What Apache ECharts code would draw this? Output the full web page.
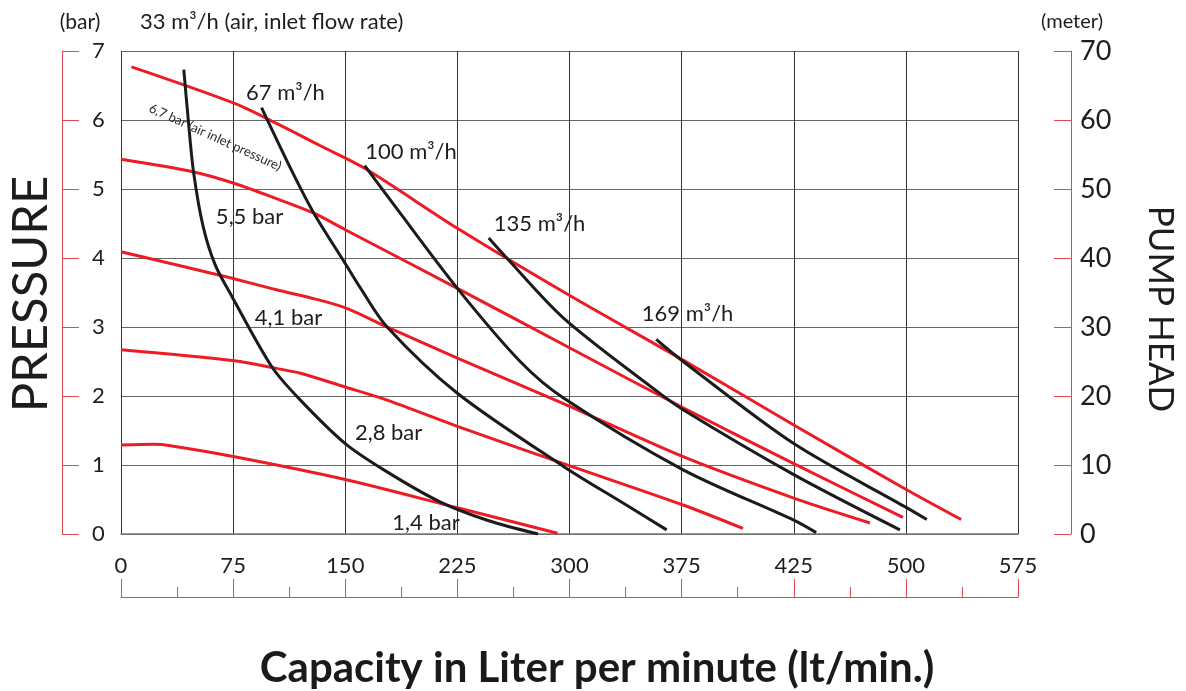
<!DOCTYPE html>
<html>
<head>
<meta charset="utf-8">
<script src="https://cdn.jsdelivr.net/npm/echarts@6/dist/echarts.min.js"></script>
<style>
html,body{margin:0;padding:0;background:#fff;}
#chart{width:1186px;height:691px;}
</style>
</head>
<body>
<div id="chart"></div>
<script>
// ---- data ----
var xTickLabels = ['0','75','150','225','300','375','425','500','575'];
// pump head curves at given air inlet pressure (bar)
var bar67 = [[7,6.77],[76,6.24],[104,5.95],[133,5.63],[163,5.30],[225,4.43],[299,3.47],[376,2.52],[450,1.58],[524,0.66],[562,0.21]];
var bar55 = [[0,5.43],[48,5.25],[76,5.08],[104,4.86],[129,4.65],[150,4.41],[225,3.56],[299,2.71],[376,1.83],[450,1.02],[523,0.24]];
var bar41 = [[0,4.09],[66,3.75],[104,3.54],[131,3.40],[151,3.27],[176,3.02],[225,2.55],[296,1.89],[376,1.12],[450,0.52],[501,0.16]];
var bar28 = [[0,2.67],[76,2.51],[104,2.40],[120,2.33],[150,2.13],[178,1.94],[225,1.56],[296,1.02],[376,0.42],[416,0.08]];
var bar14 = [[0,1.29],[22,1.30],[33,1.28],[76,1.12],[150,0.79],[225,0.38],[292,0.01]];
// air consumption curves (m3/h)
var air33  = [[42,6.73],[45,6.0],[48.5,5.25],[55,4.45],[63,3.90],[74,3.45],[101,2.42],[120,1.94],[150,1.31],[178,0.90],[213,0.47],[245,0.20],[279,0.0]];
var air67  = [[94,6.18],[115,5.23],[129,4.65],[150,3.92],[160,3.57],[178,3.0],[225,2.04],[296,0.98],[338,0.42],[365,0.06]];
var air100 = [[163,5.34],[185,4.70],[225,3.56],[267,2.50],[296,1.97],[376,0.93],[450,0.20],[465,0.02]];
var air135 = [[246,4.29],[258,4.0],[296,3.13],[356,2.11],[376,1.80],[450,0.86],[521,0.06]];
var air169 = [[358,2.82],[376,2.50],[450,1.31],[524,0.40],[539,0.21]];
// curve annotations (text, anchor in data units)
var curveLabels = [
  ['67 m³/h',[110,6.39]],
  ['100 m³/h',[194,5.54]],
  ['135 m³/h',[280,4.50]],
  ['169 m³/h',[379,3.19]],
  ['5,5 bar',[86,4.59]],
  ['4,1 bar',[112,3.13]],
  ['2,8 bar',[179,1.46]],
  ['1,4 bar',[204,0.16]]
];
var rotatedLabel = ['6,7 bar (air inlet pressure)',[63,5.75]];

// ---- styles ----
var FONT = 'Lato, "Open Sans", sans-serif';
var RED = '#ed1c24';
var AXRED = '#e0474f';
var BLACK = '#1b1b1b';
var TXT = '#1f1c1d';

function redLine(d){return {type:'line',data:d,showSymbol:false,smooth:0.3,lineStyle:{color:RED,width:3},z:3};}
function blackLine(d){return {type:'line',data:d,showSymbol:false,smooth:0.3,lineStyle:{color:BLACK,width:3},z:4};}

var labelData = curveLabels.map(function(l){
  return {value:l[1], label:{show:true, formatter:l[0], position:'inside', fontSize:22, color:TXT, opacity:1, fontFamily:FONT}};
});
labelData.push({value:rotatedLabel[1], label:{show:true, formatter:rotatedLabel[0], position:'inside', rotate:-24.5, fontSize:13, color:'#2a2a2a', opacity:1, fontFamily:FONT}});

var chart = echarts.init(document.getElementById('chart'), null, {renderer:'canvas'});
chart.setOption({
  animation:false,
  backgroundColor:'#fff',
  grid:{left:121, right:168, top:51, bottom:157},
  xAxis:[
    {type:'value', min:0, max:600, interval:75, position:'bottom',
     axisLine:{show:true, onZero:false, lineStyle:{color:'#777', width:1.5}},
     axisTick:{show:false},
     axisLabel:{margin:21, fontSize:22, color:TXT, fontFamily:FONT,
       formatter:function(v){return xTickLabels[Math.round(v/75)];}},
     splitLine:{show:true, lineStyle:{color:'#333', width:1}}},
    {type:'value', min:0, max:600, interval:75, position:'bottom', offset:63,
     axisLine:{show:true, onZero:false, lineStyle:{color:AXRED, width:1}},
     axisTick:{show:true, inside:true, length:18, lineStyle:{color:AXRED}},
     minorTick:{show:true, splitNumber:2, length:10, lineStyle:{color:AXRED}},
     axisLabel:{show:false}, splitLine:{show:false}}
  ],
  yAxis:[
    {type:'value', min:0, max:7, interval:1, position:'left', offset:59,
     axisLine:{show:true, onZero:false, lineStyle:{color:AXRED, width:1}},
     axisTick:{show:true, inside:true, length:17, lineStyle:{color:AXRED}},
     axisLabel:{inside:true, margin:30, fontSize:22, color:TXT, fontFamily:FONT},
     splitLine:{show:true, lineStyle:{color:'#666', width:1.2}}},
    {type:'value', min:0, max:70, interval:10, position:'right', offset:53,
     axisLine:{show:true, onZero:false, lineStyle:{color:AXRED, width:1}},
     axisTick:{show:true, inside:true, length:17, lineStyle:{color:AXRED}},
     axisLabel:{margin:9, fontSize:27, color:TXT, fontFamily:FONT},
     splitLine:{show:false}}
  ],
  series:[
    redLine(bar67), redLine(bar55), redLine(bar41), redLine(bar28), redLine(bar14),
    blackLine(air33), blackLine(air67), blackLine(air100), blackLine(air135), blackLine(air169),
    {type:'scatter', data:labelData, symbolSize:1, itemStyle:{color:'rgba(0,0,0,0)'}, z:6, silent:true}
  ],
  graphic:[
    {type:'text', x:80, y:22, style:{text:'(bar)', fontSize:21, fill:TXT, fontFamily:FONT, textAlign:'center', textVerticalAlign:'middle'}},
    {type:'text', x:140, y:22, style:{text:'33 m³/h (air, inlet flow rate)', fontSize:22, fill:TXT, fontFamily:FONT, textAlign:'left', textVerticalAlign:'middle'}},
    {type:'text', x:1072, y:22, style:{text:'(meter)', fontSize:20, fill:TXT, fontFamily:FONT, textAlign:'center', textVerticalAlign:'middle'}},
    {type:'text', x:31, y:294, rotation:Math.PI/2, style:{text:'PRESSURE', fontSize:49, fill:TXT, fontFamily:FONT, textAlign:'center', textVerticalAlign:'middle'}},
    {type:'text', x:1160, y:309, rotation:-Math.PI/2, style:{text:'PUMP HEAD', fontSize:35, fill:TXT, fontFamily:FONT, textAlign:'center', textVerticalAlign:'middle'}},
    {type:'text', x:597, y:668, style:{text:'Capacity in Liter per minute (lt/min.)', fontSize:42, fontWeight:'bold', fill:'#1a1a1a', fontFamily:FONT, textAlign:'center', textVerticalAlign:'middle'}}
  ]
});
</script>
</body>
</html>
